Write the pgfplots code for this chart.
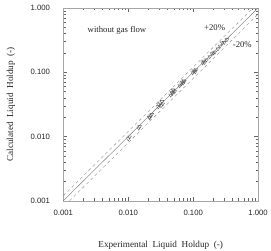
\documentclass[border=0pt]{standalone}
\usepackage{fontspec}
\setmainfont{Liberation Serif}
\newfontfamily\arial{Liberation Sans}
\usepackage{pgfplots}
\pgfplotsset{compat=1.18}
\begin{document}
\begin{tikzpicture}
\begin{axis}[
  xmode=log, ymode=log,
  width=197pt, height=195pt, scale only axis,
  xmin=0.001, xmax=1, ymin=0.001, ymax=1,
  xtick={0.001,0.01,0.1,1}, ytick={0.001,0.01,0.1,1},
  xticklabels={0.001,0.010,0.100,1.000},
  yticklabels={0.001,0.010,0.100,1.000},
  tick label style={font=\arial\fontsize{7.8}{9}\selectfont, black!85},
  /pgf/number format/assume math mode=true,
  tick align=inside,
  major tick length=4pt, minor tick length=2.5pt,
  tick style={black!60},
  axis line style={black!35},
  xlabel={Experimental\ \ Liquid\ \ Holdup\ \ (-)},
  ylabel={Calculated\ \ Liquid\ \ Holdup\ \ (-)},
  label style={font=\fontsize{9.3}{11}\selectfont, black!85},
  xlabel style={at={(axis description cs:0.5,0)}, anchor=center, yshift=-45pt},
  ylabel style={at={(axis description cs:0,0.5)}, anchor=center, rotate=0, yshift=53pt},
  xticklabel style={yshift=-6pt},
  yticklabel style={xshift=-10pt},
  clip=false,
]
\addplot[black!55, thin] coordinates {(0.001,0.001) (1,1)};
\addplot[black!45, thin, dash pattern=on 3pt off 3pt] coordinates {(0.001,0.0012) (0.8333,1)};
\addplot[black!45, thin, dash pattern=on 3pt off 3pt] coordinates {(0.00125,0.001) (1,0.8)};
\addplot[only marks, mark=triangle, mark size=2.2pt, mark options={rotate=180, black!65, line width=0.35pt}] coordinates {
(0.010,0.0092) (0.0105,0.0098) (0.0145,0.0135) (0.015,0.0142)
(0.021,0.020) (0.022,0.021) (0.023,0.022) (0.0215,0.0195)
(0.029,0.029) (0.030,0.031) (0.032,0.030) (0.033,0.035) (0.031,0.033) (0.034,0.032)
(0.045,0.044) (0.047,0.048) (0.048,0.047) (0.050,0.051) (0.052,0.050) (0.049,0.053)
(0.062,0.062) (0.066,0.066) (0.068,0.070) (0.070,0.068) (0.073,0.072) (0.071,0.074)
(0.098,0.098) (0.102,0.104) (0.105,0.105) (0.110,0.110) (0.108,0.102)
(0.140,0.140) (0.145,0.148) (0.150,0.142) (0.160,0.155)
(0.180,0.175) (0.195,0.195) (0.205,0.200) (0.215,0.205)
(0.240,0.230) (0.260,0.255) (0.280,0.285) (0.300,0.290) (0.330,0.320)
};
\node[font=\fontsize{8.8}{10}\selectfont, anchor=west, black!85] at (axis cs:0.0021,0.44) {without gas flow};
\node[font=\fontsize{8.8}{10}\selectfont, black!85] at (axis cs:0.214,0.49) {+20\%};
\node[font=\fontsize{8.8}{10}\selectfont, black!85] at (axis cs:0.57,0.27) {-20\%};
\end{axis}
\pgfresetboundingbox
\path (-64pt,-50pt) rectangle (210pt,203pt);
\end{tikzpicture}
\end{document}
